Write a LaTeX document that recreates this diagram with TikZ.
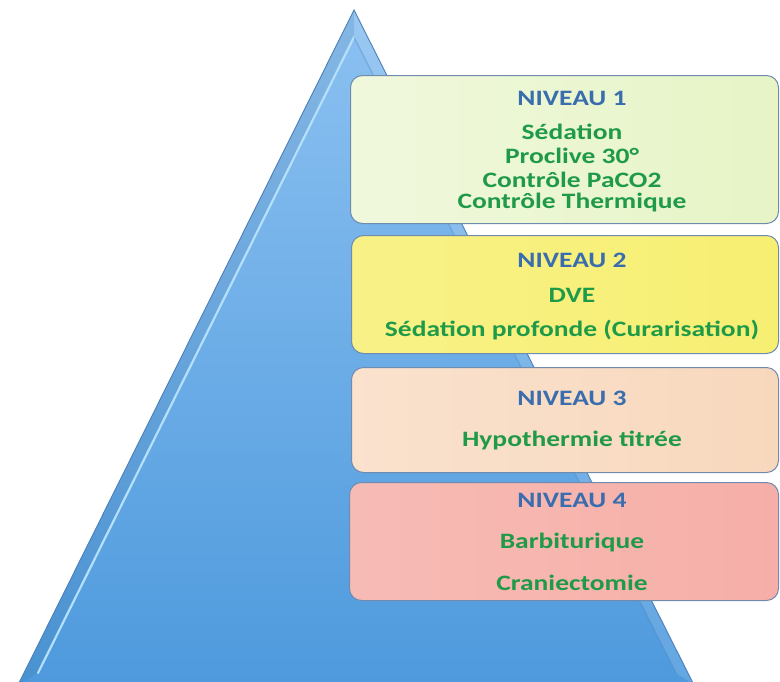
\documentclass[tikz,border=0pt]{standalone}
\usepackage{fontspec}
\newfontfamily\lab{Carlito}[FakeStretch=1.25]
\usetikzlibrary{calc}
\definecolor{pyrtop}{HTML}{8CC1F1}
\definecolor{pyrmid}{HTML}{61A8E8}
\definecolor{pyrbot}{HTML}{4E9ADD}
\definecolor{pyredge}{HTML}{4A7FB8}
\definecolor{pyrhi}{HTML}{B4E0FC}
\definecolor{bxedge}{HTML}{6F8CAE}
\definecolor{lvone}{HTML}{E6F4C6}
\definecolor{lvtwo}{HTML}{F7EF72}
\definecolor{lvthree}{HTML}{F8D8BD}
\definecolor{lvfour}{HTML}{F6AFA8}
\definecolor{hdblue}{HTML}{3A6DAE}
\definecolor{txgreen}{HTML}{1F9A48}
\tikzset{
  levelbox/.style={draw=bxedge, line width=1pt, rounded corners=12pt, anchor=north west, inner sep=0pt},
  head/.style={font=\lab\bfseries\fontsize{22}{24}\selectfont, text=hdblue, inner sep=0pt},
  item/.style={font=\lab\bfseries\fontsize{22}{24}\selectfont, text=txgreen, inner sep=0pt}
}
\begin{document}
\begin{tikzpicture}[x=1pt,y=-1pt]
\useasboundingbox (0,0) rectangle (780,681);
\clip (0,0) rectangle (780,681);
% pyramid
\coordinate (apex) at (354,10);
\coordinate (bl) at (18,685);
\coordinate (br) at (694,685);
\coordinate (iapex) at (354,37);
\coordinate (ibl) at (38,673);
\coordinate (ibr) at (676,673);
\shade[top color=pyrtop, middle color=pyrmid, bottom color=pyrbot] (apex) -- (br) -- (bl) -- cycle;
% bevel bands
\fill[black, opacity=0.05] (apex) -- (iapex) -- (ibl) -- (bl) -- cycle;
\fill[white, opacity=0.12] (apex) -- (br) -- (ibr) -- (iapex) -- cycle;
\draw[pyrhi, line width=2.2pt, line cap=round] (ibl) -- (iapex);
\draw[pyredge, opacity=0.3, line width=1.5pt] (iapex) -- (ibr);
\draw[pyredge, line width=0.9pt] (bl) -- (apex) -- (br);
% boxes
\node[levelbox, left color=lvone!60!white, right color=lvone, minimum width=428pt, minimum height=148pt] (b1) at (350,75) {};
\node[levelbox, left color=lvtwo!85!white, right color=lvtwo, minimum width=427pt, minimum height=118pt] (b2) at (351,235) {};
\node[levelbox, left color=lvthree!75!white, right color=lvthree, minimum width=427pt, minimum height=105pt] (b3) at (351,367) {};
\node[levelbox, left color=lvfour!85!white, right color=lvfour, minimum width=429pt, minimum height=118pt] (b4) at (349,482) {};
% texts
\node[head] (h1) at (572,98) {NIVEAU 1};
\node[item] (t11) at (572,132) {Sédation};
\node[item] (t12) at (572,156) {Proclive 30°};
\node[item] (t13) at (572,180) {Contrôle PaCO2};
\node[item] (t14) at (572,203) {Contrôle Thermique};
\node[head] (h2) at (572,260) {NIVEAU 2};
\node[item] (t21) at (572,295) {DVE};
\node[item] (t22) at (572,330) {Sédation profonde (Curarisation)};
\node[head] (h3) at (572,398) {NIVEAU 3};
\node[item] (t31) at (572,440) {Hypothermie titrée};
\node[head] (h4) at (572,500) {NIVEAU 4};
\node[item] (t41) at (572,543) {Barbiturique};
\node[item] (t42) at (572,583) {Craniectomie};
\end{tikzpicture}
\end{document}
